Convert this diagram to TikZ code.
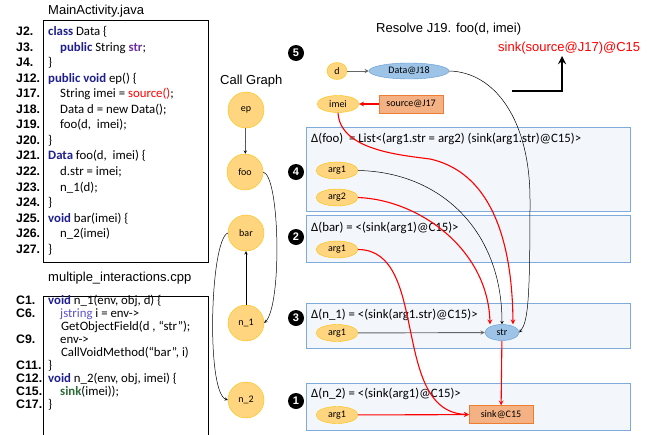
\documentclass[tikz,border=0pt]{standalone}
\usepackage{fontspec}
\setmainfont{Carlito}
\newfontfamily\arialfont{Liberation Sans}
\usetikzlibrary{shapes.geometric}

\definecolor{cgfill}{HTML}{FFD580}
\definecolor{cgline}{HTML}{FFC000}
\definecolor{objfill}{HTML}{9DC3E6}
\definecolor{objline}{HTML}{5B9BD5}
\definecolor{srcfill}{HTML}{F4B183}
\definecolor{srcline}{HTML}{ED7D31}
\definecolor{sumfill}{HTML}{F3F6FB}
\definecolor{sumline}{HTML}{7FAADC}
\definecolor{kwblue}{HTML}{1F1F8F}
\definecolor{kwpurple}{HTML}{7030A0}
\definecolor{kwjni}{HTML}{5B4FD0}
\definecolor{kwgreen}{HTML}{2E6B3A}
\definecolor{flowred}{HTML}{FF0000}

\newcommand{\kw}[1]{\textcolor{kwblue}{\bfseries #1}}
\newcommand{\codesize}{\fontsize{12.8}{15}\selectfont}
\newcommand{\nodesize}{\fontsize{10}{12}\selectfont}

\begin{document}
\begin{tikzpicture}[>=stealth, x=1pt, y=-1pt,
    cgnode/.style={circle, draw=cgline, fill=cgfill, minimum size=36pt,
      inner sep=0pt, font=\nodesize},
    varnode/.style={ellipse, draw=cgline, fill=cgfill, minimum width=42pt,
      minimum height=17pt, inner sep=0pt, font=\nodesize},
    objnode/.style={ellipse, draw=objline, fill=objfill, minimum height=16pt,
      inner sep=0pt, font=\nodesize},
    srcnode/.style={rectangle, draw=srcline, fill=srcfill, minimum width=64pt,
      minimum height=18pt, inner sep=0pt, font=\nodesize},
    sumbox/.style={draw=sumline, fill=sumfill, line width=0.8pt},
    stepnum/.style={circle, fill=black, text=white, minimum size=16pt,
      inner sep=0pt, font=\arialfont\bfseries\fontsize{11}{12}\selectfont},
    codeline/.style={anchor=base west, inner sep=0pt, font=\codesize},
    linelab/.style={anchor=base west, inner sep=0pt,
      font=\arialfont\bfseries\fontsize{12.3}{14}\selectfont},
    title/.style={anchor=base west, inner sep=0pt,
      font=\arialfont\fontsize{13}{15}\selectfont},
    flow/.style={->, flowred, line width=1.1pt},
    link/.style={->, black, line width=0.5pt},
    greylink/.style={->, black!60, line width=0.9pt}]
  \useasboundingbox (0,0) rectangle (650,434);

  % Java source listing, one row per line number
  \node[title] (javatitle) at (48,14) {MainActivity.java};
  \draw[line width=0.8pt] (43,20) rectangle (208,262);
  \foreach \lab/\x/\code [count=\i from 0] in {
      J2./48/{\kw{class} Data \{},
      J3./60/{\kw{public} String \textcolor{kwpurple}{\bfseries str};},
      J4./48/{\}},
      J12./48/{\kw{public void} ep() \{},
      J17./60/{String imei = \textcolor{flowred}{source()};},
      J18./60/{Data d = new Data();},
      J19./60/{foo(d,\ \ imei);},
      J20./48/{\}},
      J21./48/{\kw{Data} foo(d,\ \ imei) \{},
      J22./60/{d.str = imei;},
      J23./60/{n\_1(d);},
      J24./48/{\}},
      J25./48/{\kw{void} bar(imei) \{},
      J26./60/{n\_2(imei)},
      J27./48/{\}}} {
    \node[linelab] (jlab\i) at (16, 35.5+15.55*\i) {\lab};
    \node[codeline] (jcode\i) at (\x, 35.5+15.55*\i) {\code};
  }

  % Native side, the wrapped calls take a row of their own
  \node[title] (cpptitle) at (48,281.5) {multiple\_interactions.cpp};
  \draw[line width=0.8pt] (43,440) |- (208,296) -- (208,440);
  \foreach \lab/\x/\code [count=\i from 0] in {
      C1./48/{\kw{void} n\_1(env, obj, d) \{},
      C6./60/{\textcolor{kwjni}{jstring} i = env->},
      /58/{\ GetObjectField(d , “str”);},
      C9./60/{env->},
      /58/{\ CallVoidMethod(“bar”, i)},
      C11./48/{\}},
      C12./48/{\kw{void} n\_2(env, obj, imei) \{},
      C15./60/{\textcolor{kwgreen}{\bfseries sink}(imei));},
      C17./48/{\}}} {
    \node[linelab] (clab\i) at (16, 304.5+13*\i) {\lab};
    \node[codeline] (ccode\i) at (\x, 304.5+13*\i) {\code};
  }

  % Call graph
  \node[title] (cgtitle) at (220,84.5) {Call Graph};
  \node[cgnode] (ep) at (246,110) {ep};
  \node[cgnode] (foo) at (245,172) {foo};
  \node[cgnode] (bar) at (246,233) {bar};
  \node[cgnode] (n1) at (246,323) {n\_1};
  \node[cgnode] (n2) at (246,400) {n\_2};
  \draw[link] (ep) -- (foo);
  \draw[link] (n1) -- (bar);
  \draw[link] (foo.east) .. controls (280,176) and (282,305) .. (n1.east);
  \draw[link] (bar.west) .. controls (210,240) and (206,392) .. (n2.west);

  % Summary boxes, bottom-up order given by the black step numbers
  \draw[sumbox] (306,127) rectangle (630,211);
  \draw[sumbox] (306,215) rectangle (630,262);
  \draw[sumbox] (306,303) rectangle (630,348);
  \draw[sumbox] (306,383) rectangle (630,430);
  \node[codeline] (sumfoo) at (311,142.5)
    {Δ(foo)\ \ = List<(arg1.str = arg2) (sink(arg1.str)@C15)>};
  \node[codeline] (sumbar) at (311,231) {Δ(bar) = <(sink(arg1)@C15)>};
  \node[codeline] (sumnone) at (311,318) {Δ(n\_1) = <(sink(arg1.str)@C15)>};
  \node[codeline] (sumntwo) at (311,397.5) {Δ(n\_2) = <(sink(arg1)@C15)>};

  \node[stepnum] (s5) at (296,53) {5};
  \node[stepnum] (s4) at (296,172) {4};
  \node[stepnum] (s2) at (296,237) {2};
  \node[stepnum] (s3) at (296,318) {3};
  \node[stepnum] (s1) at (296,401) {1};

  % Call site J19 and its actual arguments
  \node[title] (restitle) at (376,32.5) {Resolve J19. foo(d, imei)};
  \node[title, text=flowred] (result) at (498,51) {sink(source@J17)@C15};
  \node[varnode, minimum width=20pt] (d) at (337,71) {d};
  \node[objnode, minimum width=80pt] (data) at (409,71) {Data@J18};
  \node[varnode] (imei) at (338,104) {imei};
  \node[srcnode] (source) at (411,104) {source@J17};
  \draw[greylink] (d) -- (data);
  \draw[flow] (source) -- (imei);

  % Formal parameters inside the summaries
  \node[varnode] (fooarg1) at (337,170.5) {arg1};
  \node[varnode] (fooarg2) at (337,197.5) {arg2};
  \node[varnode] (bararg1) at (337,249.5) {arg1};
  \node[varnode] (noarg1) at (337,333) {arg1};
  \node[varnode] (ntarg1) at (337,415) {arg1};
  \node[objnode, minimum width=34pt] (str) at (502,332.5) {str};
  \node[srcnode] (sink) at (501,414.5) {sink@C15};

  \draw[greylink] (noarg1) -- (str);
  \draw[flow] (str) -- (sink);
  \draw[flow] (ntarg1) -- (sink);
  \draw[flow] (bararg1.east) .. controls (430,250) and (390,412) .. (sink.west);
  \draw[flow] (fooarg2.east) .. controls (420,200) and (488,250) .. ([xshift=-12pt]str.north);
  \draw[link] (fooarg1.east) .. controls (440,172) and (502,230) .. (str.north);
  \draw[flow] (imei.south) .. controls (340,150) and (400,155) .. (430,159)
    .. controls (480,170) and (512,220) .. ([xshift=11pt]str.north);
  \draw[link] (data.east) .. controls (495,72) and (530,120) .. (530,200)
    .. controls (530,300) and (528,322) .. (str.east);

  % Result of resolving the call
  \coordinate (resfrom) at (512,91);
  \coordinate (resto) at (562,56);
  \draw[->, line width=2.6pt] (resfrom) -| (resto);
\end{tikzpicture}
\end{document}
